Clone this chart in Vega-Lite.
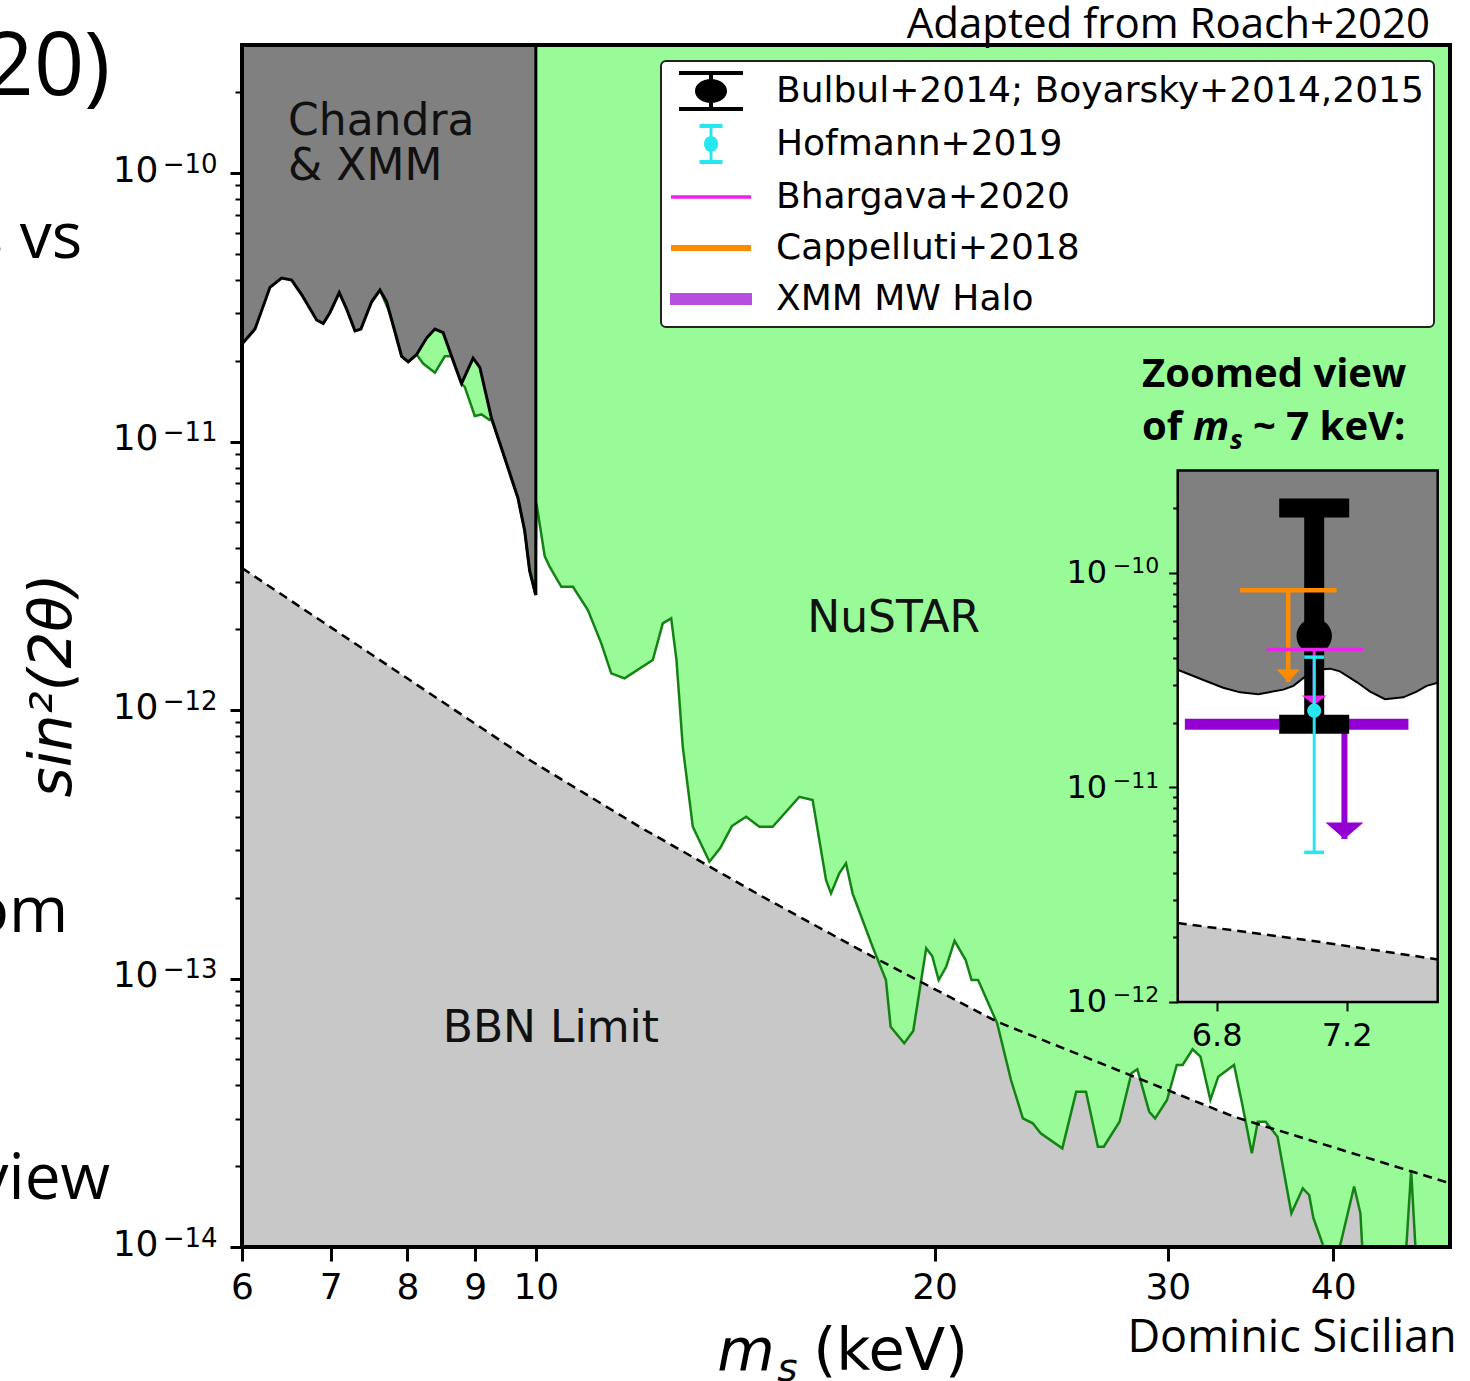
{
  "$schema": "https://vega.github.io/schema/vega-lite/v6.json",
  "width": 1208,
  "height": 1202,
  "autosize": {"type": "none"},
  "padding": {"left": 242, "top": 45, "right": 20, "bottom": 134},
  "background": "white",
  "title": {"text": "Adapted from Roach+2020", "anchor": "end", "frame": "group", "font": "Open Sans", "fontSize": 42, "fontWeight": "normal", "color": "black", "offset": 0, "dx": -20, "dy": 22},
  "config": {
    "view": {"stroke": null},
    "axis": {"labelFont": "DejaVu Sans", "labelColor": "black", "tickColor": "black", "grid": false, "domain": false},
    "legend": {"orient": "top-right", "offset": 16, "padding": 10, "rowPadding": 13, "labelOffset": 65, "symbolSize": 1600, "symbolStrokeWidth": 0, "symbolOpacity": 1, "labelFont": "DejaVu Sans", "labelFontSize": 36, "labelColor": "black", "labelLimit": 1000, "strokeColor": "#222222", "fillColor": "white", "cornerRadius": 5, "strokeWidth": 2}
  },
  "datasets": {
    "chandra": [
      {"i": 1, "mass": 6.0, "mixing": 2.307e-11},
      {"i": 2, "mass": 6.137, "mixing": 2.624e-11},
      {"i": 3, "mass": 6.299, "mixing": 3.755e-11},
      {"i": 4, "mass": 6.428, "mixing": 4.064e-11},
      {"i": 5, "mass": 6.541, "mixing": 3.995e-11},
      {"i": 6, "mass": 6.655, "mixing": 3.527e-11},
      {"i": 7, "mass": 6.831, "mixing": 2.837e-11},
      {"i": 8, "mass": 6.91, "mixing": 2.75e-11},
      {"i": 9, "mass": 6.991, "mixing": 3.02e-11},
      {"i": 10, "mass": 7.105, "mixing": 3.585e-11},
      {"i": 11, "mass": 7.197, "mixing": 3.114e-11},
      {"i": 12, "mass": 7.302, "mixing": 2.584e-11},
      {"i": 13, "mass": 7.378, "mixing": 2.624e-11},
      {"i": 14, "mass": 7.517, "mixing": 3.316e-11},
      {"i": 15, "mass": 7.626, "mixing": 3.666e-11},
      {"i": 16, "mass": 7.716, "mixing": 3.316e-11},
      {"i": 17, "mass": 7.919, "mixing": 2.078e-11},
      {"i": 18, "mass": 8.01, "mixing": 1.982e-11},
      {"i": 19, "mass": 8.128, "mixing": 2.11e-11},
      {"i": 20, "mass": 8.27, "mixing": 2.429e-11},
      {"i": 21, "mass": 8.391, "mixing": 2.624e-11},
      {"i": 22, "mass": 8.512, "mixing": 2.544e-11},
      {"i": 23, "mass": 8.637, "mixing": 2.078e-11},
      {"i": 24, "mass": 8.788, "mixing": 1.644e-11},
      {"i": 25, "mass": 8.967, "mixing": 2.046e-11},
      {"i": 26, "mass": 9.072, "mixing": 1.891e-11},
      {"i": 27, "mass": 9.257, "mixing": 1.224e-11},
      {"i": 28, "mass": 9.474, "mixing": 8.68e-12},
      {"i": 29, "mass": 9.694, "mixing": 6.16e-12},
      {"i": 30, "mass": 9.808, "mixing": 4.654e-12},
      {"i": 31, "mass": 9.893, "mixing": 3.303e-12},
      {"i": 32, "mass": 10.0, "mixing": 2.681e-12},
      {"i": 33, "mass": 10.0, "mixing": 3e-10}
    ],
    "nustar": [
      {"mass": 7.517, "mixing": 3.316e-11}, {"mass": 7.626, "mixing": 3.666e-11}, {"mass": 7.737, "mixing": 3.114e-11},
      {"mass": 7.827, "mixing": 2.601e-11}, {"mass": 7.919, "mixing": 2.078e-11}, {"mass": 8.01, "mixing": 1.982e-11},
      {"mass": 8.128, "mixing": 2.11e-11}, {"mass": 8.221, "mixing": 1.952e-11}, {"mass": 8.391, "mixing": 1.805e-11},
      {"mass": 8.537, "mixing": 2.078e-11}, {"mass": 8.637, "mixing": 2.078e-11}, {"mass": 8.788, "mixing": 1.644e-11},
      {"mass": 8.839, "mixing": 1.596e-11}, {"mass": 8.993, "mixing": 1.245e-11}, {"mass": 9.099, "mixing": 1.262e-11},
      {"mass": 9.23, "mixing": 1.202e-11}, {"mass": 9.257, "mixing": 1.224e-11}, {"mass": 9.474, "mixing": 8.68e-12},
      {"mass": 9.694, "mixing": 6.16e-12}, {"mass": 9.808, "mixing": 4.654e-12}, {"mass": 9.893, "mixing": 3.303e-12},
      {"mass": 9.99, "mixing": 2.7e-12}, {"mass": 10.01, "mixing": 5.9e-12}, {"mass": 10.155, "mixing": 3.747e-12},
      {"mass": 10.243, "mixing": 3.418e-12}, {"mass": 10.453, "mixing": 2.878e-12}, {"mass": 10.666, "mixing": 2.878e-12},
      {"mass": 10.947, "mixing": 2.358e-12}, {"mass": 11.205, "mixing": 1.772e-12}, {"mass": 11.401, "mixing": 1.37e-12},
      {"mass": 11.668, "mixing": 1.312e-12}, {"mass": 12.255, "mixing": 1.535e-12}, {"mass": 12.469, "mixing": 2.103e-12},
      {"mass": 12.653, "mixing": 2.195e-12}, {"mass": 12.77, "mixing": 1.535e-12}, {"mass": 12.91, "mixing": 7.3e-13},
      {"mass": 13.137, "mixing": 3.675e-13}, {"mass": 13.523, "mixing": 2.723e-13}, {"mass": 13.779, "mixing": 3.062e-13},
      {"mass": 14.062, "mixing": 3.697e-13}, {"mass": 14.413, "mixing": 4.005e-13}, {"mass": 14.75, "mixing": 3.675e-13},
      {"mass": 15.094, "mixing": 3.675e-13}, {"mass": 15.811, "mixing": 4.753e-13}, {"mass": 16.18, "mixing": 4.62e-13},
      {"mass": 16.561, "mixing": 2.327e-13}, {"mass": 16.705, "mixing": 2.076e-13}, {"mass": 16.948, "mixing": 2.464e-13},
      {"mass": 17.146, "mixing": 2.686e-13}, {"mass": 17.344, "mixing": 2.076e-13}, {"mass": 17.957, "mixing": 1.313e-13},
      {"mass": 18.379, "mixing": 9.87e-14}, {"mass": 18.53, "mixing": 6.613e-14}, {"mass": 18.973, "mixing": 5.737e-14},
      {"mass": 19.272, "mixing": 6.374e-14}, {"mass": 19.712, "mixing": 1.296e-13}, {"mass": 19.918, "mixing": 1.213e-13},
      {"mass": 20.144, "mixing": 9.87e-14}, {"mass": 20.408, "mixing": 1.106e-13}, {"mass": 20.708, "mixing": 1.382e-13},
      {"mass": 21.111, "mixing": 1.172e-13}, {"mass": 21.328, "mixing": 9.87e-14}, {"mass": 21.573, "mixing": 9.87e-14},
      {"mass": 22.301, "mixing": 6.808e-14}, {"mass": 22.842, "mixing": 4.188e-14}, {"mass": 23.319, "mixing": 3.015e-14},
      {"mass": 23.724, "mixing": 2.889e-14}, {"mass": 24.052, "mixing": 2.651e-14}, {"mass": 24.975, "mixing": 2.331e-14},
      {"mass": 25.585, "mixing": 3.789e-14}, {"mass": 26.024, "mixing": 3.789e-14}, {"mass": 26.567, "mixing": 2.363e-14},
      {"mass": 26.841, "mixing": 2.363e-14}, {"mass": 27.588, "mixing": 2.929e-14}, {"mass": 28.163, "mixing": 4.436e-14},
      {"mass": 28.453, "mixing": 4.59e-14}, {"mass": 29.047, "mixing": 3.191e-14}, {"mass": 29.346, "mixing": 3.015e-14},
      {"mass": 29.959, "mixing": 3.528e-14}, {"mass": 30.473, "mixing": 4.762e-14}, {"mass": 30.787, "mixing": 4.762e-14},
      {"mass": 31.321, "mixing": 5.449e-14}, {"mass": 31.755, "mixing": 5.115e-14}, {"mass": 32.306, "mixing": 3.528e-14},
      {"mass": 32.752, "mixing": 4.308e-14}, {"mass": 33.663, "mixing": 4.762e-14}, {"mass": 34.134, "mixing": 3.429e-14},
      {"mass": 34.72, "mixing": 2.234e-14}, {"mass": 35.083, "mixing": 2.929e-14}, {"mass": 35.562, "mixing": 2.929e-14},
      {"mass": 36.305, "mixing": 2.575e-14}, {"mass": 37.192, "mixing": 1.335e-14}, {"mass": 37.936, "mixing": 1.654e-14},
      {"mass": 38.36, "mixing": 1.562e-14}, {"mass": 38.64, "mixing": 1.282e-14}, {"mass": 39.243, "mixing": 1.035e-14},
      {"mass": 39.55, "mixing": 9e-15}, {"mass": 40.173, "mixing": 9e-15}, {"mass": 40.523, "mixing": 1.035e-14},
      {"mass": 41.477, "mixing": 1.68e-14}, {"mass": 41.933, "mixing": 1.335e-14}, {"mass": 42.05, "mixing": 1.035e-14},
      {"mass": 42.137, "mixing": 9e-15}, {"mass": 45.325, "mixing": 9e-15}, {"mass": 45.443, "mixing": 1.044e-14},
      {"mass": 45.799, "mixing": 1.935e-14}, {"mass": 46.118, "mixing": 1.044e-14}, {"mass": 46.238, "mixing": 9e-15},
      {"mass": 49.0, "mixing": 9e-15}
    ],
    "bbn": [
      {"mass": 6.0, "mixing": 3.38e-12}, {"mass": 9.893, "mixing": 6.513e-13}, {"mass": 11.975, "mixing": 3.675e-13},
      {"mass": 14.835, "mixing": 2.016e-13}, {"mass": 17.957, "mixing": 1.206e-13}, {"mass": 22.301, "mixing": 6.902e-14},
      {"mass": 33.663, "mixing": 3.056e-14}, {"mass": 49.0, "mixing": 1.727e-14}
    ],
    "notes": [
      {"label": "Chandra\n& XMM", "mass": 6.5, "mixing": 1.385e-10},
      {"label": "NuSTAR", "mass": 16.03, "mixing": 1.95e-12},
      {"label": "BBN Limit", "mass": 8.505, "mixing": 5.8e-14}
    ],
    "slideTitle": [{"label": "20)", "mass": 4.771, "mixing": 1.952e-10}],
    "slideBody": [
      {"label": "s vs", "mass": 4.545, "mixing": 4.825e-11},
      {"label": "om", "mass": 4.436, "mixing": 1.49e-13},
      {"label": "view", "mass": 4.771, "mixing": 1.509e-14}
    ],
    "credit": [{"label": "Dominic Sicilian", "mass": 49.57, "mixing": 4.06e-15}],
    "zoomNote": [{"mass": 28.69, "mixing": 1.596e-11, "next": 1.013e-11}],
    "xTitle": [{"mass": 13.71, "mixing": 3.48e-15}],
    "insetLimit": [
      {"mass": 6.68, "mixing": 3.537e-11}, {"mass": 6.759, "mixing": 3.167e-11}, {"mass": 6.82, "mixing": 2.916e-11},
      {"mass": 6.872, "mixing": 2.775e-11}, {"mass": 6.928, "mixing": 2.719e-11}, {"mass": 7.005, "mixing": 2.857e-11},
      {"mass": 7.036, "mixing": 2.976e-11}, {"mass": 7.066, "mixing": 3.232e-11}, {"mass": 7.108, "mixing": 3.537e-11},
      {"mass": 7.149, "mixing": 3.579e-11}, {"mass": 7.179, "mixing": 3.477e-11}, {"mass": 7.231, "mixing": 3.099e-11},
      {"mass": 7.272, "mixing": 2.799e-11}, {"mass": 7.318, "mixing": 2.577e-11}, {"mass": 7.374, "mixing": 2.63e-11},
      {"mass": 7.415, "mixing": 2.799e-11}, {"mass": 7.446, "mixing": 2.976e-11}, {"mass": 7.48, "mixing": 3.076e-11}
    ],
    "insetBBN": [
      {"mass": 6.68, "mixing": 2.333e-12}, {"mass": 7.08, "mixing": 1.94e-12}, {"mass": 7.48, "mixing": 1.578e-12}
    ],
    "bulbul": [{"mass": 7.1, "value": 5.08e-11, "lower": 1.97e-11, "upper": 2.01e-10}],
    "hofmann": [{"mass": 7.1, "value": 2.28e-11, "lower": 4.98e-12, "upper": 4.05e-11}],
    "bhargava": [{"mass": 7.1, "lo": 6.954, "hi": 7.251, "limit": 4.4e-11, "tip": 2.42e-11}],
    "cappelluti": [{"mass": 7.02, "lo": 6.872, "hi": 7.169, "limit": 8.3e-11, "tip": 3.1e-11}],
    "halo": [{"mass": 7.193, "lo": 6.702, "hi": 7.39, "limit": 1.97e-11, "tip": 5.75e-12}],
    "sources": [
      {"source": "Bulbul+2014; Boyarsky+2014,2015"},
      {"source": "Hofmann+2019"},
      {"source": "Bhargava+2020"},
      {"source": "Cappelluti+2018"},
      {"source": "XMM MW Halo"}
    ]
  },
  "layer": [
    {
      "layer": [
        {
          "data": {"name": "bbn"},
          "mark": {"type": "area", "color": "#c8c8c8", "clip": true},
          "encoding": {
            "x": {"field": "mass", "type": "quantitative", "scale": {"type": "log", "domain": [6, 49], "nice": false},
              "axis": {"orient": "bottom", "values": [6, 7, 8, 9, 10, 20, 30, 40], "labelExpr": "format(datum.value, 'd')", "labelFontSize": 36, "labelPadding": 9, "tickSize": 14, "tickWidth": 3, "title": null, "labelFlush": false, "labelOverlap": false, "zindex": 1}},
            "y": {"field": "mixing", "type": "quantitative", "scale": {"type": "log", "domain": [1e-14, 3e-10], "nice": false},
              "axis": {"orient": "left",
                "values": [1e-14, 2e-14, 3e-14, 4e-14, 5e-14, 6e-14, 7e-14, 8e-14, 9e-14, 1e-13, 2e-13, 3e-13, 4e-13, 5e-13, 6e-13, 7e-13, 8e-13, 9e-13, 1e-12, 2e-12, 3e-12, 4e-12, 5e-12, 6e-12, 7e-12, 8e-12, 9e-12, 1e-11, 2e-11, 3e-11, 4e-11, 5e-11, 6e-11, 7e-11, 8e-11, 9e-11, 1e-10, 2e-10],
                "labelExpr": "abs(log(datum.value)/LN10 - round(log(datum.value)/LN10)) < 0.01 ? '10' : ''",
                "labelFontSize": 36, "labelPadding": 72, "labelBaseline": "alphabetic", "labelOffset": 8, "labelOverlap": false, "labelFlush": false,
                "tickSize": {"condition": {"test": "abs(log(datum.value)/LN10 - round(log(datum.value)/LN10)) < 0.01", "value": 12}, "value": 7},
                "tickWidth": {"condition": {"test": "abs(log(datum.value)/LN10 - round(log(datum.value)/LN10)) < 0.01", "value": 3}, "value": 2},
                "title": "sin²(2θ)", "titleFont": "DejaVu Sans", "titleFontSize": 58, "titleFontStyle": "italic", "titleFontWeight": "normal", "titleColor": "black",
                "titleX": -172, "titleY": 640, "titleAngle": 270, "titleAlign": "center", "titleBaseline": "alphabetic", "zindex": 1}},
            "y2": {"datum": 1e-14}
          }
        },
        {
          "data": {"name": "nustar"},
          "mark": {"type": "area", "color": "#98fb98", "clip": true},
          "encoding": {"x": {"field": "mass", "type": "quantitative"}, "y": {"field": "mixing", "type": "quantitative"}, "y2": {"datum": 3e-10}}
        },
        {
          "data": {"name": "chandra"},
          "transform": [{"filter": "datum.i < 33"}],
          "mark": {"type": "area", "color": "#808080", "clip": true},
          "encoding": {"x": {"field": "mass", "type": "quantitative"}, "y": {"field": "mixing", "type": "quantitative"}, "y2": {"datum": 3e-10}}
        },
        {
          "data": {"name": "nustar"},
          "mark": {"type": "line", "color": "#138313", "strokeWidth": 2.5, "clip": true},
          "encoding": {"x": {"field": "mass", "type": "quantitative"}, "y": {"field": "mixing", "type": "quantitative"}}
        },
        {
          "data": {"name": "chandra"},
          "mark": {"type": "line", "color": "black", "strokeWidth": 3, "clip": true},
          "encoding": {"x": {"field": "mass", "type": "quantitative"}, "y": {"field": "mixing", "type": "quantitative"}, "order": {"field": "i", "type": "quantitative"}}
        },
        {
          "data": {"name": "bbn"},
          "mark": {"type": "line", "color": "black", "strokeWidth": 2.5, "strokeDash": [9, 6], "clip": true},
          "encoding": {"x": {"field": "mass", "type": "quantitative"}, "y": {"field": "mixing", "type": "quantitative"}}
        },
        {
          "data": {"values": [{}]},
          "mark": {"type": "rect", "fill": "transparent", "stroke": "black", "strokeWidth": 4},
          "encoding": {"x": {"datum": 6}, "x2": {"datum": 49}, "y": {"datum": 1e-14}, "y2": {"datum": 3e-10}}
        },
        {
          "data": {"name": "notes"},
          "mark": {"type": "text", "font": "DejaVu Sans", "fontSize": 44, "align": "left", "baseline": "alphabetic", "lineBreak": "\n", "lineHeight": 45, "color": "#111111"},
          "encoding": {"x": {"field": "mass", "type": "quantitative"}, "y": {"field": "mixing", "type": "quantitative"}, "text": {"field": "label"}}
        },
        {
          "data": {"name": "slideTitle"},
          "mark": {"type": "text", "font": "Open Sans", "fontSize": 88, "align": "right", "baseline": "alphabetic", "color": "black"},
          "encoding": {"x": {"field": "mass", "type": "quantitative"}, "y": {"field": "mixing", "type": "quantitative"}, "text": {"field": "label"}}
        },
        {
          "data": {"name": "slideBody"},
          "mark": {"type": "text", "font": "Open Sans", "fontSize": 64, "align": "right", "baseline": "alphabetic", "color": "black"},
          "encoding": {"x": {"field": "mass", "type": "quantitative"}, "y": {"field": "mixing", "type": "quantitative"}, "text": {"field": "label"}}
        },
        {
          "data": {"name": "credit"},
          "mark": {"type": "text", "font": "Open Sans", "fontSize": 45, "align": "right", "baseline": "alphabetic", "color": "black"},
          "encoding": {"x": {"field": "mass", "type": "quantitative"}, "y": {"field": "mixing", "type": "quantitative"}, "text": {"field": "label"}}
        },
        {
          "data": {"name": "zoomNote"},
          "mark": {"type": "text", "text": "Zoomed view", "font": "Open Sans", "fontSize": 40, "fontWeight": "bold", "align": "left", "baseline": "alphabetic", "color": "black"},
          "encoding": {"x": {"field": "mass", "type": "quantitative"}, "y": {"field": "mixing", "type": "quantitative"}}
        },
        {
          "data": {"name": "zoomNote"},
          "mark": {"type": "text", "text": "of", "font": "Open Sans", "fontSize": 40, "fontWeight": "bold", "align": "left", "baseline": "alphabetic", "color": "black"},
          "encoding": {"x": {"field": "mass", "type": "quantitative"}, "y": {"field": "next", "type": "quantitative"}}
        },
        {
          "data": {"name": "zoomNote"},
          "mark": {"type": "text", "text": "m", "font": "Open Sans", "fontSize": 40, "fontWeight": "bold", "fontStyle": "italic", "dx": 51, "align": "left", "baseline": "alphabetic", "color": "black"},
          "encoding": {"x": {"field": "mass", "type": "quantitative"}, "y": {"field": "next", "type": "quantitative"}}
        },
        {
          "data": {"name": "zoomNote"},
          "mark": {"type": "text", "text": "s", "font": "Open Sans", "fontSize": 27, "fontWeight": "bold", "fontStyle": "italic", "dx": 88, "dy": 9, "align": "left", "baseline": "alphabetic", "color": "black"},
          "encoding": {"x": {"field": "mass", "type": "quantitative"}, "y": {"field": "next", "type": "quantitative"}}
        },
        {
          "data": {"name": "zoomNote"},
          "mark": {"type": "text", "text": "~ 7 keV:", "font": "Open Sans", "fontSize": 40, "fontWeight": "bold", "dx": 111, "align": "left", "baseline": "alphabetic", "color": "black"},
          "encoding": {"x": {"field": "mass", "type": "quantitative"}, "y": {"field": "next", "type": "quantitative"}}
        },
        {
          "data": {"name": "xTitle"},
          "mark": {"type": "text", "text": "m", "font": "DejaVu Sans", "fontSize": 59, "fontStyle": "italic", "align": "left", "baseline": "alphabetic", "color": "black"},
          "encoding": {"x": {"field": "mass", "type": "quantitative"}, "y": {"field": "mixing", "type": "quantitative"}}
        },
        {
          "data": {"name": "xTitle"},
          "mark": {"type": "text", "text": "s", "font": "DejaVu Sans", "fontSize": 39, "fontStyle": "italic", "dx": 60, "dy": 11, "align": "left", "baseline": "alphabetic", "color": "black"},
          "encoding": {"x": {"field": "mass", "type": "quantitative"}, "y": {"field": "mixing", "type": "quantitative"}}
        },
        {
          "data": {"name": "xTitle"},
          "mark": {"type": "text", "text": "(keV)", "font": "DejaVu Sans", "fontSize": 59, "dx": 96, "align": "left", "baseline": "alphabetic", "color": "black"},
          "encoding": {"x": {"field": "mass", "type": "quantitative"}, "y": {"field": "mixing", "type": "quantitative"}}
        }
      ]
    },
    {
      "layer": [
        {
          "data": {"values": [{}]},
          "mark": {"type": "rect", "color": "white"},
          "encoding": {
            "x": {"datum": 6.68, "type": "quantitative", "scale": {"domain": [6.68, 7.48], "range": [935.7, 1195.7], "nice": false, "zero": false},
              "axis": {"orient": "bottom", "offset": -245.1, "values": [6.8, 7.2], "labelExpr": "format(datum.value, '.1f')", "labelFontSize": 32, "labelPadding": 10, "tickSize": 9, "tickWidth": 2, "title": null, "labelFlush": false, "labelOverlap": false, "zindex": 1}},
            "x2": {"datum": 7.48},
            "y": {"datum": 1e-12, "type": "quantitative", "scale": {"type": "log", "domain": [1e-12, 3e-10], "range": [956.9, 425.6], "nice": false},
              "axis": {"orient": "left", "offset": -935.7,
                "values": [1e-12, 2e-12, 3e-12, 4e-12, 5e-12, 6e-12, 7e-12, 8e-12, 9e-12, 1e-11, 2e-11, 3e-11, 4e-11, 5e-11, 6e-11, 7e-11, 8e-11, 9e-11, 1e-10, 2e-10],
                "labelExpr": "abs(log(datum.value)/LN10 - round(log(datum.value)/LN10)) < 0.01 ? '10' : ''",
                "labelFontSize": 32, "labelPadding": 62, "labelBaseline": "alphabetic", "labelOffset": 10, "labelOverlap": false, "labelFlush": false,
                "tickSize": {"condition": {"test": "abs(log(datum.value)/LN10 - round(log(datum.value)/LN10)) < 0.01", "value": 9}, "value": 5},
                "tickWidth": 2, "title": null, "zindex": 1}},
            "y2": {"datum": 3e-10}
          }
        },
        {
          "data": {"name": "insetBBN"},
          "mark": {"type": "area", "color": "#c8c8c8"},
          "encoding": {"x": {"field": "mass", "type": "quantitative"}, "y": {"field": "mixing", "type": "quantitative"}, "y2": {"datum": 1e-12}}
        },
        {
          "data": {"name": "insetBBN"},
          "mark": {"type": "line", "color": "black", "strokeWidth": 2.5, "strokeDash": [9, 6]},
          "encoding": {"x": {"field": "mass", "type": "quantitative"}, "y": {"field": "mixing", "type": "quantitative"}}
        },
        {
          "data": {"name": "insetLimit"},
          "mark": {"type": "area", "color": "#808080"},
          "encoding": {"x": {"field": "mass", "type": "quantitative"}, "y": {"field": "mixing", "type": "quantitative"}, "y2": {"datum": 3e-10}}
        },
        {
          "data": {"name": "insetLimit"},
          "mark": {"type": "line", "color": "black", "strokeWidth": 2},
          "encoding": {"x": {"field": "mass", "type": "quantitative"}, "y": {"field": "mixing", "type": "quantitative"}}
        },
        {
          "data": {"name": "halo"},
          "mark": {"type": "rule", "color": "#9400d3", "strokeWidth": 11},
          "encoding": {"x": {"field": "lo", "type": "quantitative"}, "x2": {"field": "hi"}, "y": {"field": "limit", "type": "quantitative"}}
        },
        {
          "data": {"name": "halo"},
          "mark": {"type": "rule", "color": "#9400d3", "strokeWidth": 6},
          "encoding": {"x": {"field": "mass", "type": "quantitative"}, "y": {"field": "limit", "type": "quantitative"}, "y2": {"field": "tip"}}
        },
        {
          "data": {"name": "halo"},
          "mark": {"type": "point", "shape": "M0,0L-1,-0.87L1,-0.87Z", "size": 1444, "filled": true, "opacity": 1, "color": "#9400d3"},
          "encoding": {"x": {"field": "mass", "type": "quantitative"}, "y": {"field": "tip", "type": "quantitative"}}
        },
        {
          "data": {"name": "bulbul"},
          "mark": {"type": "rule", "color": "black", "strokeWidth": 20},
          "encoding": {"x": {"field": "mass", "type": "quantitative"}, "y": {"field": "lower", "type": "quantitative"}, "y2": {"field": "upper"}}
        },
        {
          "data": {"name": "bulbul"},
          "mark": {"type": "tick", "orient": "horizontal", "size": 70, "thickness": 19, "opacity": 1, "color": "black"},
          "encoding": {"x": {"field": "mass", "type": "quantitative"}, "y": {"field": "upper", "type": "quantitative"}}
        },
        {
          "data": {"name": "bulbul"},
          "mark": {"type": "tick", "orient": "horizontal", "size": 70, "thickness": 19, "opacity": 1, "color": "black"},
          "encoding": {"x": {"field": "mass", "type": "quantitative"}, "y": {"field": "lower", "type": "quantitative"}}
        },
        {
          "data": {"name": "bulbul"},
          "mark": {"type": "point", "shape": "circle", "size": 1257, "filled": true, "opacity": 1, "color": "black"},
          "encoding": {"x": {"field": "mass", "type": "quantitative"}, "y": {"field": "value", "type": "quantitative"}}
        },
        {
          "data": {"name": "cappelluti"},
          "mark": {"type": "rule", "color": "#ff8c00", "strokeWidth": 4.5},
          "encoding": {"x": {"field": "lo", "type": "quantitative"}, "x2": {"field": "hi"}, "y": {"field": "limit", "type": "quantitative"}}
        },
        {
          "data": {"name": "cappelluti"},
          "mark": {"type": "rule", "color": "#ff8c00", "strokeWidth": 4.5},
          "encoding": {"x": {"field": "mass", "type": "quantitative"}, "y": {"field": "limit", "type": "quantitative"}, "y2": {"field": "tip"}}
        },
        {
          "data": {"name": "cappelluti"},
          "mark": {"type": "point", "shape": "M0,0L-1,-1.09L1,-1.09Z", "size": 529, "filled": true, "opacity": 1, "color": "#ff8c00"},
          "encoding": {"x": {"field": "mass", "type": "quantitative"}, "y": {"field": "tip", "type": "quantitative"}}
        },
        {
          "data": {"name": "bhargava"},
          "mark": {"type": "rule", "color": "#f020f0", "strokeWidth": 3.5},
          "encoding": {"x": {"field": "lo", "type": "quantitative"}, "x2": {"field": "hi"}, "y": {"field": "limit", "type": "quantitative"}}
        },
        {
          "data": {"name": "bhargava"},
          "mark": {"type": "rule", "color": "#f020f0", "strokeWidth": 3},
          "encoding": {"x": {"field": "mass", "type": "quantitative"}, "y": {"field": "limit", "type": "quantitative"}, "y2": {"field": "tip"}}
        },
        {
          "data": {"name": "bhargava"},
          "mark": {"type": "point", "shape": "M0,0L-1,-0.76L1,-0.76Z", "size": 625, "filled": true, "opacity": 1, "color": "#f020f0"},
          "encoding": {"x": {"field": "mass", "type": "quantitative"}, "y": {"field": "tip", "type": "quantitative"}}
        },
        {
          "data": {"name": "hofmann"},
          "mark": {"type": "rule", "color": "#26e6f0", "strokeWidth": 3},
          "encoding": {"x": {"field": "mass", "type": "quantitative"}, "y": {"field": "lower", "type": "quantitative"}, "y2": {"field": "upper"}}
        },
        {
          "data": {"name": "hofmann"},
          "mark": {"type": "tick", "orient": "horizontal", "size": 20, "thickness": 3.5, "opacity": 1, "color": "#26e6f0"},
          "encoding": {"x": {"field": "mass", "type": "quantitative"}, "y": {"field": "upper", "type": "quantitative"}}
        },
        {
          "data": {"name": "hofmann"},
          "mark": {"type": "tick", "orient": "horizontal", "size": 20, "thickness": 3.5, "opacity": 1, "color": "#26e6f0"},
          "encoding": {"x": {"field": "mass", "type": "quantitative"}, "y": {"field": "lower", "type": "quantitative"}}
        },
        {
          "data": {"name": "hofmann"},
          "mark": {"type": "point", "shape": "circle", "size": 200, "filled": true, "opacity": 1, "color": "#26e6f0"},
          "encoding": {"x": {"field": "mass", "type": "quantitative"}, "y": {"field": "value", "type": "quantitative"}}
        },
        {
          "data": {"name": "sources"},
          "mark": {"type": "point", "filled": true, "opacity": 0, "size": 1600},
          "encoding": {
            "x": {"datum": 7.1},
            "y": {"datum": 5e-11},
            "color": {"field": "source", "type": "nominal", "sort": null,
              "scale": {"domain": ["Bulbul+2014; Boyarsky+2014,2015", "Hofmann+2019", "Bhargava+2020", "Cappelluti+2018", "XMM MW Halo"],
                "range": ["black", "#26e6f0", "#f020f0", "#ff8c00", "#b44fe0"]},
              "legend": {"title": null}},
            "shape": {"field": "source", "type": "nominal", "sort": null,
              "scale": {"domain": ["Bulbul+2014; Boyarsky+2014,2015", "Hofmann+2019", "Bhargava+2020", "Cappelluti+2018", "XMM MW Halo"],
                "range": [
                  "M-0.6,-1H2.6V-0.8H-0.6Z M-0.6,0.8H2.6V1H-0.6Z M0.9,-0.9H1.1V0.9H0.9Z M0.2,0A0.8,0.6 0 1,1 1.8,0A0.8,0.6 0 1,1 0.2,0Z",
                  "M0.425,-1H1.575V-0.8H0.425Z M0.425,0.8H1.575V1H0.425Z M0.925,-0.9H1.075V0.9H0.925Z M0.65,0A0.35,0.4 0 1,1 1.35,0A0.35,0.4 0 1,1 0.65,0Z",
                  "M-1,-0.09H3V0.09H-1Z",
                  "M-1,-0.15H3V0.15H-1Z",
                  "M-1.05,-0.3H3.05V0.3H-1.05Z"
                ]},
              "legend": {"title": null}}
          }
        },
        {
          "data": {"values": [{}]},
          "mark": {"type": "rect", "fill": "transparent", "stroke": "black", "strokeWidth": 2.5},
          "encoding": {"x": {"datum": 6.68}, "x2": {"datum": 7.48}, "y": {"datum": 1e-12}, "y2": {"datum": 3e-10}}
        }
      ]
    },
    {
      "data": {"values": [{}]},
      "mark": {"type": "rect", "opacity": 0},
      "encoding": {
        "x": {"datum": 6, "type": "quantitative", "scale": {"type": "log", "domain": [6, 49], "nice": false}, "axis": null},
        "x2": {"datum": 49},
        "y": {"datum": 1e-14, "type": "quantitative", "scale": {"type": "log", "domain": [1e-14, 3e-10], "nice": false},
          "axis": {"orient": "left", "values": [1e-14, 1e-13, 1e-12, 1e-11, 1e-10],
            "labelExpr": "'−' + format(-round(log(datum.value)/LN10), 'd')",
            "labelFontSize": 26, "labelPadding": 13, "labelBaseline": "alphabetic", "labelOffset": -1, "labelOverlap": false, "labelFlush": false,
            "tickSize": 12, "tickOpacity": 0, "title": null, "zindex": 1}},
        "y2": {"datum": 3e-10}
      }
    },
    {
      "data": {"values": [{}]},
      "mark": {"type": "rect", "opacity": 0},
      "encoding": {
        "x": {"datum": 6.68, "type": "quantitative", "scale": {"domain": [6.68, 7.48], "range": [935.7, 1195.7], "nice": false, "zero": false}, "axis": null},
        "x2": {"datum": 7.48},
        "y": {"datum": 1e-12, "type": "quantitative", "scale": {"type": "log", "domain": [1e-12, 3e-10], "range": [956.9, 425.6], "nice": false},
          "axis": {"orient": "left", "offset": -935.7, "values": [1e-12, 1e-11, 1e-10],
            "labelExpr": "'−' + format(-round(log(datum.value)/LN10), 'd')",
            "labelFontSize": 22, "labelPadding": 10, "labelBaseline": "alphabetic", "labelOffset": 0, "labelOverlap": false, "labelFlush": false,
            "tickSize": 9, "tickOpacity": 0, "title": null, "zindex": 1}},
        "y2": {"datum": 3e-10}
      }
    }
  ],
  "resolve": {"scale": {"x": "independent", "y": "independent"}}
}
